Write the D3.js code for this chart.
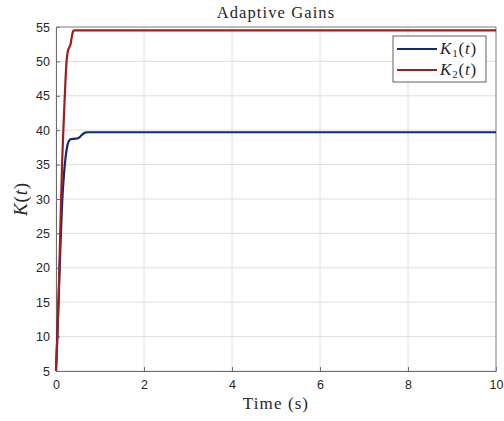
<!DOCTYPE html>
<html lang="en">
<head>
    <meta charset="UTF-8">
    <title>Adaptive Gains</title>
    <style>
        body { margin: 0; background: #fff; }
    </style>
</head>
<body>
    <div id="chart"></div>
    <script src="https://cdn.jsdelivr.net/npm/d3@7"></script>
    <script>
        // K1(t) samples
        const k1Time = [0, 0.03, 0.06, 0.1, 0.14, 0.18, 0.22, 0.26, 0.3, 0.34, 0.4, 0.48, 0.54, 0.6, 0.66, 0.72, 10];
        const k1Vals = [5, 10, 15.5, 23, 29.5, 33.5, 36.2, 37.8, 38.5, 38.7, 38.75, 38.8, 39.0, 39.4, 39.65, 39.7, 39.7];
        // K2(t)
        const k2Time = [0, 0.03, 0.06, 0.1, 0.14, 0.18, 0.21, 0.24, 0.27, 0.3, 0.33, 0.36, 0.39, 0.42, 10];
        const k2Vals = [5, 10, 16, 26, 35.5, 42, 46.5, 50, 51.5, 52, 52.5, 53.6, 54.4, 54.5, 54.5];

        const xTicks = [0, 2, 4, 6, 8, 10];
        const yTicks = [5, 10, 15, 20, 25, 30, 35, 40, 45, 50, 55];

        const W = 504, H = 421;
        const m = { left: 56, right: 496, top: 27, bottom: 371 };

        const svg = d3.select("#chart").append("svg")
            .attr("width", W)
            .attr("height", H);

        const x = d3.scaleLinear().domain([0, 10]).range([m.left, m.right]);
        const y = d3.scaleLinear().domain([5, 55]).range([m.bottom, m.top]);

        // grid
        svg.append("g")
            .selectAll("line")
            .data(xTicks)
            .enter().append("line")
            .attr("x1", d => x(d)).attr("x2", d => x(d))
            .attr("y1", m.top).attr("y2", m.bottom)
            .attr("stroke", "#dedede").attr("stroke-width", 1);
        svg.append("g")
            .selectAll("line")
            .data(yTicks)
            .enter().append("line")
            .attr("x1", m.left).attr("x2", m.right)
            .attr("y1", d => y(d)).attr("y2", d => y(d))
            .attr("stroke", "#dedede").attr("stroke-width", 1);

        // axes
        const xAxis = svg.append("g")
            .attr("transform", `translate(0,${m.bottom})`)
            .call(d3.axisBottom(x).tickValues(xTicks).tickSizeInner(-4).tickSizeOuter(0).tickPadding(9));
        const yAxis = svg.append("g")
            .attr("transform", `translate(${m.left},0)`)
            .call(d3.axisLeft(y).tickValues(yTicks).tickSizeInner(-4).tickSizeOuter(0).tickPadding(6));
        [xAxis, yAxis].forEach(g => {
            g.select(".domain").attr("stroke", "#6b6b6b");
            g.selectAll(".tick line").attr("stroke", "#6b6b6b");
            g.selectAll("text")
                .attr("fill", "#262626")
                .style("font-family", "'Liberation Sans', Arial, sans-serif")
                .style("font-size", "12.5px");
        });

        // top and right box edges
        svg.append("line").attr("x1", m.left).attr("x2", m.right).attr("y1", m.top).attr("y2", m.top)
            .attr("stroke", "#8a8a8a");
        svg.append("line").attr("x1", m.right).attr("x2", m.right).attr("y1", m.top).attr("y2", m.bottom)
            .attr("stroke", "#8a8a8a");

        const line = d3.line().x(d => x(d[0])).y(d => y(d[1])).curve(d3.curveMonotoneX);

        svg.append("path")
            .datum(d3.zip(k1Time, k1Vals))
            .attr("d", line)
            .attr("fill", "none")
            .attr("stroke", "#0e2a78")
            .attr("stroke-width", 2.2);
        svg.append("path")
            .datum(d3.zip(k2Time, k2Vals))
            .attr("d", line)
            .attr("fill", "none")
            .attr("stroke", "#a11c1c")
            .attr("stroke-width", 2.2);

        // title and labels
        svg.append("text")
            .attr("x", (m.left + m.right) / 2).attr("y", 18)
            .attr("text-anchor", "middle")
            .style("font-family", "'Liberation Serif', serif")
            .style("font-size", "16.5px")
            .style("letter-spacing", "1.1px")
            .attr("fill", "#262626")
            .text("Adaptive Gains");

        svg.append("text")
            .attr("x", (m.left + m.right) / 2).attr("y", 409)
            .attr("text-anchor", "middle")
            .style("font-family", "'Liberation Serif', serif")
            .style("font-size", "17px")
            .style("letter-spacing", "1.1px")
            .attr("fill", "#262626")
            .text("Time (s)");

        const yl = svg.append("text")
            .attr("transform", `translate(27,${(m.top + m.bottom) / 2}) rotate(-90)`)
            .attr("text-anchor", "middle")
            .style("font-family", "'Liberation Serif', serif")
            .style("font-size", "19px")
            .style("letter-spacing", "0.8px")
            .attr("fill", "#262626");
        yl.append("tspan").style("font-style", "italic").text("K");
        yl.append("tspan").text("(");
        yl.append("tspan").style("font-style", "italic").text("t");
        yl.append("tspan").text(")");

        // legend
        const legend = svg.append("g");
        legend.append("rect")
            .attr("x", 393).attr("y", 36)
            .attr("width", 93).attr("height", 46)
            .attr("fill", "#fff")
            .attr("stroke", "#3a3a3a").attr("stroke-width", 0.8);
        const items = [
            { label: "1", color: "#0e2a78", yy: 49 },
            { label: "2", color: "#a11c1c", yy: 70 }
        ];
        items.forEach(it => {
            legend.append("line")
                .attr("x1", 397).attr("x2", 437)
                .attr("y1", it.yy).attr("y2", it.yy)
                .attr("stroke", it.color).attr("stroke-width", 2.2);
            const t = legend.append("text")
                .attr("x", 440).attr("y", it.yy + 5)
                .style("font-family", "'Liberation Serif', serif")
                .style("font-size", "17px")
                .style("letter-spacing", "0.8px")
                .attr("fill", "#262626");
            t.append("tspan").style("font-style", "italic").text("K");
            t.append("tspan").attr("dy", 3).style("font-size", "11px").text(it.label);
            t.append("tspan").attr("dy", -3).text("(");
            t.append("tspan").style("font-style", "italic").text("t");
            t.append("tspan").text(")");
        });
    </script>
</body>
</html>
